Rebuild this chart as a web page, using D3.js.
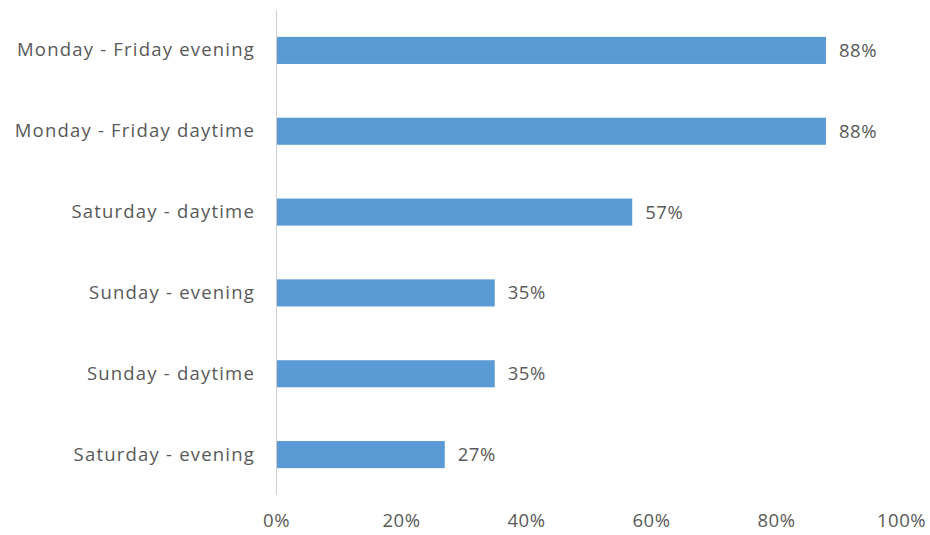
<!DOCTYPE html>
<html>
<head>
<meta charset="utf-8">
<script src="https://cdn.jsdelivr.net/npm/d3@7"></script>
<style>
  body { margin: 0; background: #fff; }
  text { font-family: "Open Sans", "DejaVu Sans", sans-serif; fill: #595959; }
</style>
</head>
<body>
<div id="chart"></div>
<script>
var categories = [
    "Monday - Friday evening",
    "Monday - Friday daytime",
    "Saturday - daytime",
    "Sunday - evening",
    "Sunday - daytime",
    "Saturday - evening"
];
var values = [0.88, 0.88, 0.57, 0.35, 0.35, 0.27];
var tickValues = [0, 0.2, 0.4, 0.6, 0.8, 1.0];

function init() {
    var w = 930;
    var h = 535;
    var margin = { top: 10, right: 29, bottom: 40, left: 276 };
    var innerWidth = w - margin.left - margin.right;
    var innerHeight = h - margin.top - margin.bottom;
    var fontSize = "18.5px";

    var xScale = d3.scaleLinear()
        .domain([0, 1])
        .range([0, innerWidth]);

    var yScale = d3.scaleBand()
        .domain(categories)
        .range([0, innerHeight])
        .paddingInner(0.665)
        .paddingOuter(0.3325);

    var svg = d3.select("#chart")
        .append("svg")
        .attr("width", w)
        .attr("height", h)
        .append("g")
        .attr("transform", "translate(" + margin.left + "," + margin.top + ")");

    // bars
    svg.selectAll("rect.bar")
        .data(values)
        .enter()
        .append("rect")
        .attr("class", "bar")
        .attr("x", 0)
        .attr("y", function(d, i) { return yScale(categories[i]); })
        .attr("width", function(d) { return xScale(d); })
        .attr("height", yScale.bandwidth())
        .attr("fill", "#5b9bd5");

    // vertical axis line
    svg.append("line")
        .attr("x1", 0.5).attr("x2", 0.5)
        .attr("y1", 0).attr("y2", innerHeight)
        .attr("stroke", "#d0d0d0")
        .attr("stroke-width", 1);

    // category labels
    var yAxis = d3.axisLeft(yScale).tickSize(0).tickPadding(21);
    var gy = svg.append("g").call(yAxis);
    gy.select(".domain").remove();
    gy.selectAll("text")
        .style("font-size", fontSize)
        .style("font-family", "\"Open Sans\", sans-serif")
        .style("letter-spacing", "1.2px")
        .attr("fill", "#595959");

    // x tick labels
    var xAxis = d3.axisBottom(xScale)
        .tickValues(tickValues)
        .tickSize(0)
        .tickPadding(19)
        .tickFormat(d3.format(".0%"));
    var gx = svg.append("g")
        .attr("transform", "translate(0," + innerHeight + ")")
        .call(xAxis);
    gx.select(".domain").remove();
    gx.selectAll("text")
        .style("font-size", fontSize)
        .style("font-family", "\"Open Sans\", sans-serif")
        .style("letter-spacing", "0.5px")
        .attr("fill", "#595959");

    // value labels
    svg.selectAll("text.val")
        .data(values)
        .enter()
        .append("text")
        .attr("class", "val")
        .attr("x", function(d) { return xScale(d) + 13; })
        .attr("y", function(d, i) { return yScale(categories[i]) + yScale.bandwidth() / 2; })
        .attr("dy", "0.35em")
        .style("font-size", fontSize)
        .style("letter-spacing", "0.5px")
        .text(function(d) { return d3.format(".0%")(d); });
}

window.onload = init;
</script>
</body>
</html>
